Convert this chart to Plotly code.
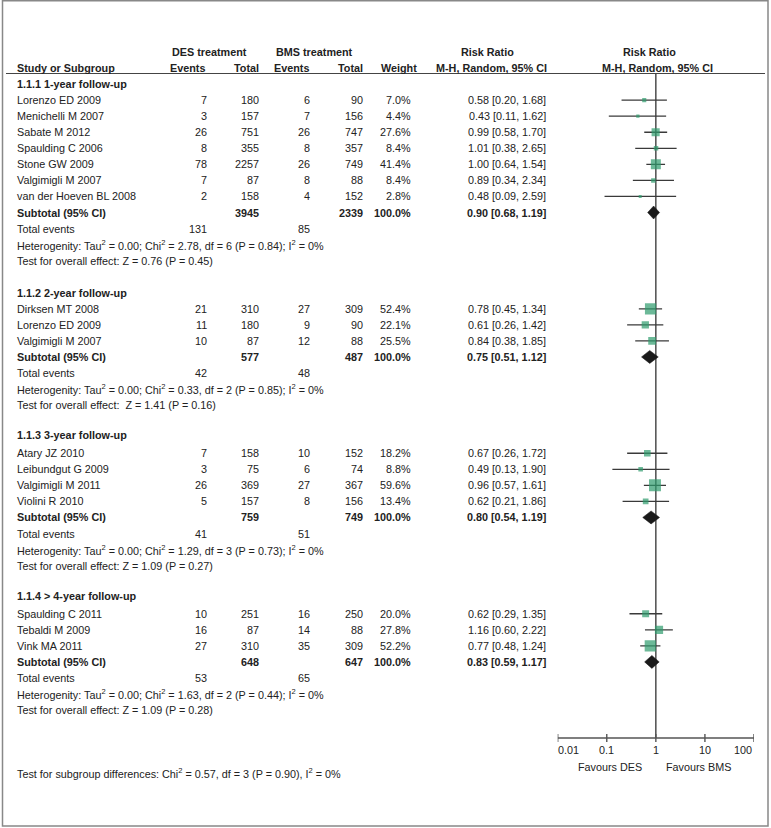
import math
import plotly.graph_objects as go

# ---- data -------------------------------------------------------------
group_titles = ["1.1.1 1-year follow-up", "1.1.2 2-year follow-up",
                "1.1.3 3-year follow-up", "1.1.4 > 4-year follow-up"]

study_names = [
    ["Lorenzo ED 2009", "Menichelli M 2007", "Sabate M 2012", "Spaulding C 2006",
     "Stone GW 2009", "Valgimigli M 2007", "van der Hoeven BL 2008"],
    ["Dirksen MT 2008", "Lorenzo ED 2009", "Valgimigli M 2007"],
    ["Atary JZ 2010", "Leibundgut G 2009", "Valgimigli M 2011", "Violini R 2010"],
    ["Spaulding C 2011", "Tebaldi M 2009", "Vink MA 2011"],
]
des_events = [[7, 3, 26, 8, 78, 7, 2], [21, 11, 10], [7, 3, 26, 5], [10, 16, 27]]
des_total = [[180, 157, 751, 355, 2257, 87, 158], [310, 180, 87], [158, 75, 369, 157], [251, 87, 310]]
bms_events = [[6, 7, 26, 8, 26, 8, 4], [27, 9, 12], [10, 6, 27, 8], [16, 14, 35]]
bms_total = [[90, 156, 747, 357, 749, 88, 152], [309, 90, 88], [152, 74, 367, 156], [250, 88, 309]]
weights = [[7.0, 4.4, 27.6, 8.4, 41.4, 8.4, 2.8], [52.4, 22.1, 25.5],
           [18.2, 8.8, 59.6, 13.4], [20.0, 27.8, 52.2]]
rr = [[0.58, 0.43, 0.99, 1.01, 1.00, 0.89, 0.48], [0.78, 0.61, 0.84],
      [0.67, 0.49, 0.96, 0.62], [0.62, 1.16, 0.77]]
rr_lo = [[0.20, 0.11, 0.58, 0.38, 0.64, 0.34, 0.09], [0.45, 0.26, 0.38],
         [0.26, 0.13, 0.57, 0.21], [0.29, 0.60, 0.48]]
rr_hi = [[1.68, 1.62, 1.70, 2.65, 1.54, 2.34, 2.59], [1.34, 1.42, 1.85],
         [1.72, 1.90, 1.61, 1.86], [1.35, 2.22, 1.24]]

sub_des_total = [3945, 577, 759, 648]
sub_bms_total = [2339, 487, 749, 647]
sub_des_events = [131, 42, 41, 53]
sub_bms_events = [85, 48, 51, 65]
sub_rr = [0.90, 0.75, 0.80, 0.83]
sub_lo = [0.68, 0.51, 0.54, 0.59]
sub_hi = [1.19, 1.12, 1.19, 1.17]
sub_chi2 = ["2.78", "0.33", "1.29", "1.63"]
sub_df = [6, 2, 3, 2]
sub_p_het = ["0.84", "0.85", "0.73", "0.44"]
sub_z = ["0.76", "1.41", "1.09", "1.09"]
sub_p_z = ["0.45", "0.16", "0.27", "0.28"]

axis_ticks = [0.01, 0.1, 1, 10, 100]
axis_ticktext = ["0.01", "0.1", "1", "10", "100"]

# ---- layout helpers ----------------------------------------------------
W, H = 771, 828
ROW0, ROW_H = 52, 16.05
FONT = "Liberation Sans, Arial, sans-serif"
FS = 10.8
TXT = "#222222"
GREEN = "#2e9b6c"

def row_y(r):
    return ROW0 + ROW_H * r

# column right edges (pixels)
X_NAME = 15
X_DES_EV, X_DES_TOT, X_BMS_EV, X_BMS_TOT = 209, 261, 312, 365
X_WEIGHT, X_CI = 413, 548

annots = []

def txt(x, y, s, anchor="left", bold=False, xref="x", size=FS, xshift=0):
    if bold:
        s = "<b>" + s + "</b>"
    annots.append(dict(x=x, y=y, xref=xref, yref="y", text=s, showarrow=False,
                       xanchor=anchor, yanchor="middle", xshift=xshift,
                       font=dict(family=FONT, size=size, color=TXT)))

# headers
txt(209, row_y(0), "DES treatment", "center", True)
txt(314, row_y(0), "BMS treatment", "center", True)
txt(487, row_y(0), "Risk Ratio", "center", True)
txt(649, row_y(0), "Risk Ratio", "center", True)
txt(X_NAME, row_y(1), "Study or Subgroup", "left", True)
txt(207, row_y(1), "Events", "right", True)
txt(261, row_y(1), "Total", "right", True)
txt(311, row_y(1), "Events", "right", True)
txt(365, row_y(1), "Total", "right", True)
txt(419, row_y(1), "Weight", "right", True)
txt(491, row_y(1), "M-H, Random, 95% CI", "center", True)
txt(657, row_y(1), "M-H, Random, 95% CI", "center", True)

ci_x, ci_y = [], []
sq_x, sq_y, sq_s = [], [], []
diamonds = []

r = 2
for g in range(len(group_titles)):
    txt(X_NAME, row_y(r) - (2 if g >= 2 else 0), group_titles[g], "left", True)
    r += 1
    for i, name in enumerate(study_names[g]):
        y = row_y(r)
        txt(X_NAME, y, name)
        txt(X_DES_EV, y, str(des_events[g][i]), "right")
        txt(X_DES_TOT, y, str(des_total[g][i]), "right")
        txt(X_BMS_EV, y, str(bms_events[g][i]), "right")
        txt(X_BMS_TOT, y, str(bms_total[g][i]), "right")
        txt(X_WEIGHT, y, f"{weights[g][i]:.1f}%", "right")
        txt(X_CI, y, f"{rr[g][i]:.2f} [{rr_lo[g][i]:.2f}, {rr_hi[g][i]:.2f}]", "right")
        ci_x += [rr_lo[g][i], rr_hi[g][i], None]
        ci_y += [y, y, None]
        sq_x.append(rr[g][i])
        sq_y.append(y)
        sq_s.append(max(3, 1.55 * math.sqrt(weights[g][i])))
        r += 1
    y = row_y(r)
    txt(X_NAME, y, "Subtotal (95% CI)", "left", True)
    txt(X_DES_TOT, y, str(sub_des_total[g]), "right", True)
    txt(X_BMS_TOT, y, str(sub_bms_total[g]), "right", True)
    txt(X_WEIGHT, y, "100.0%", "right", True)
    txt(X_CI, y, f"{sub_rr[g]:.2f} [{sub_lo[g]:.2f}, {sub_hi[g]:.2f}]", "right", True)
    diamonds.append((sub_lo[g], sub_rr[g], sub_hi[g], y))
    r += 1
    y = row_y(r)
    txt(X_NAME, y, "Total events")
    txt(X_DES_EV, y, str(sub_des_events[g]), "right")
    txt(X_BMS_EV, y, str(sub_bms_events[g]), "right")
    r += 1
    txt(X_NAME, row_y(r),
        f"Heterogenity: Tau<sup>2</sup> = 0.00; Chi<sup>2</sup> = {sub_chi2[g]}, "
        f"df = {sub_df[g]} (P = {sub_p_het[g]}); I<sup>2</sup> = 0%")
    r += 1
    sep = "  " if g == 1 else " "
    txt(X_NAME, row_y(r), f"Test for overall effect:{sep}Z = {sub_z[g]} (P = {sub_p_z[g]})")
    r += 2

AXIS_Y = 738
txt(X_NAME, row_y(45) - 1,
    "Test for subgroup differences: Chi<sup>2</sup> = 0.57, df = 3 (P = 0.90), I<sup>2</sup> = 0%")

# axis tick labels and favour labels on the log axis
for v, t in zip(axis_ticks, axis_ticktext):
    shift = 11 if v == axis_ticks[0] else (-11 if v == axis_ticks[-1] else 0)
    txt(math.log10(v), 750, t, "center", xref="x2", xshift=shift)
txt(0, 767, "Favours DES", "right", xref="x2", xshift=-12)
txt(0, 767, "Favours BMS", "left", xref="x2", xshift=8)

fig = go.Figure()

# reference line at RR = 1
fig.add_trace(go.Scatter(x=[1, 1], y=[74, AXIS_Y], xaxis="x2", yaxis="y", mode="lines",
                         line=dict(color="#333333", width=1.3), hoverinfo="skip"))
# bottom axis line with crossing ticks
tx, ty = [axis_ticks[0], axis_ticks[-1], None], [AXIS_Y, AXIS_Y, None]
for v in axis_ticks:
    tx += [v, v, None]
    ty += [AXIS_Y - 4, AXIS_Y + 4, None]
fig.add_trace(go.Scatter(x=tx, y=ty, xaxis="x2", yaxis="y", mode="lines",
                         line=dict(color="#555555", width=1.4), hoverinfo="skip"))

# confidence intervals
fig.add_trace(go.Scatter(x=ci_x, y=ci_y, xaxis="x2", yaxis="y", mode="lines",
                         line=dict(color="#3a3a3a", width=1.3), hoverinfo="skip"))
# study squares
fig.add_trace(go.Scatter(x=sq_x, y=sq_y, xaxis="x2", yaxis="y", mode="markers",
                         marker=dict(symbol="square", size=sq_s, color=GREEN,
                                     line=dict(width=0))))
# subtotal diamonds
for lo, est, hi, y in diamonds:
    fig.add_trace(go.Scatter(x=[lo, est, hi, est, lo], y=[y, y - 6.5, y, y + 6.5, y],
                             xaxis="x2", yaxis="y", mode="lines", fill="toself",
                             fillcolor="#1a1a1a", line=dict(color="#1a1a1a", width=0.5),
                             hoverinfo="skip"))

shapes = [
    # outer frame
    dict(type="rect", xref="x", yref="y", x0=2.5, x1=768, y0=0.8, y1=826,
         line=dict(color="#888888", width=1.5)),
    # header rule
    dict(type="line", xref="x", yref="y", x0=6, x1=765, y0=73.5, y1=73.5,
         line=dict(color="#444444", width=1.2)),
]

fig.update_layout(
    width=W, height=H,
    margin=dict(l=0, r=0, t=0, b=0),
    paper_bgcolor="white", plot_bgcolor="white",
    showlegend=False,
    xaxis=dict(range=[0, W], domain=[0, 1], visible=False, fixedrange=True),
    xaxis2=dict(type="log", range=[-2, 2], domain=[557.7 / W, 754 / W],
                anchor="y", visible=False, fixedrange=True),
    yaxis=dict(range=[H, 0], domain=[0, 1], visible=False, fixedrange=True),
    annotations=annots,
    shapes=shapes,
)

# drop the default page margin so the figure sits at the window's corner
fig.write_html("out.html", config={"displayModeBar": False},
               post_script="document.body.style.margin='0';document.body.style.overflow='hidden';")
